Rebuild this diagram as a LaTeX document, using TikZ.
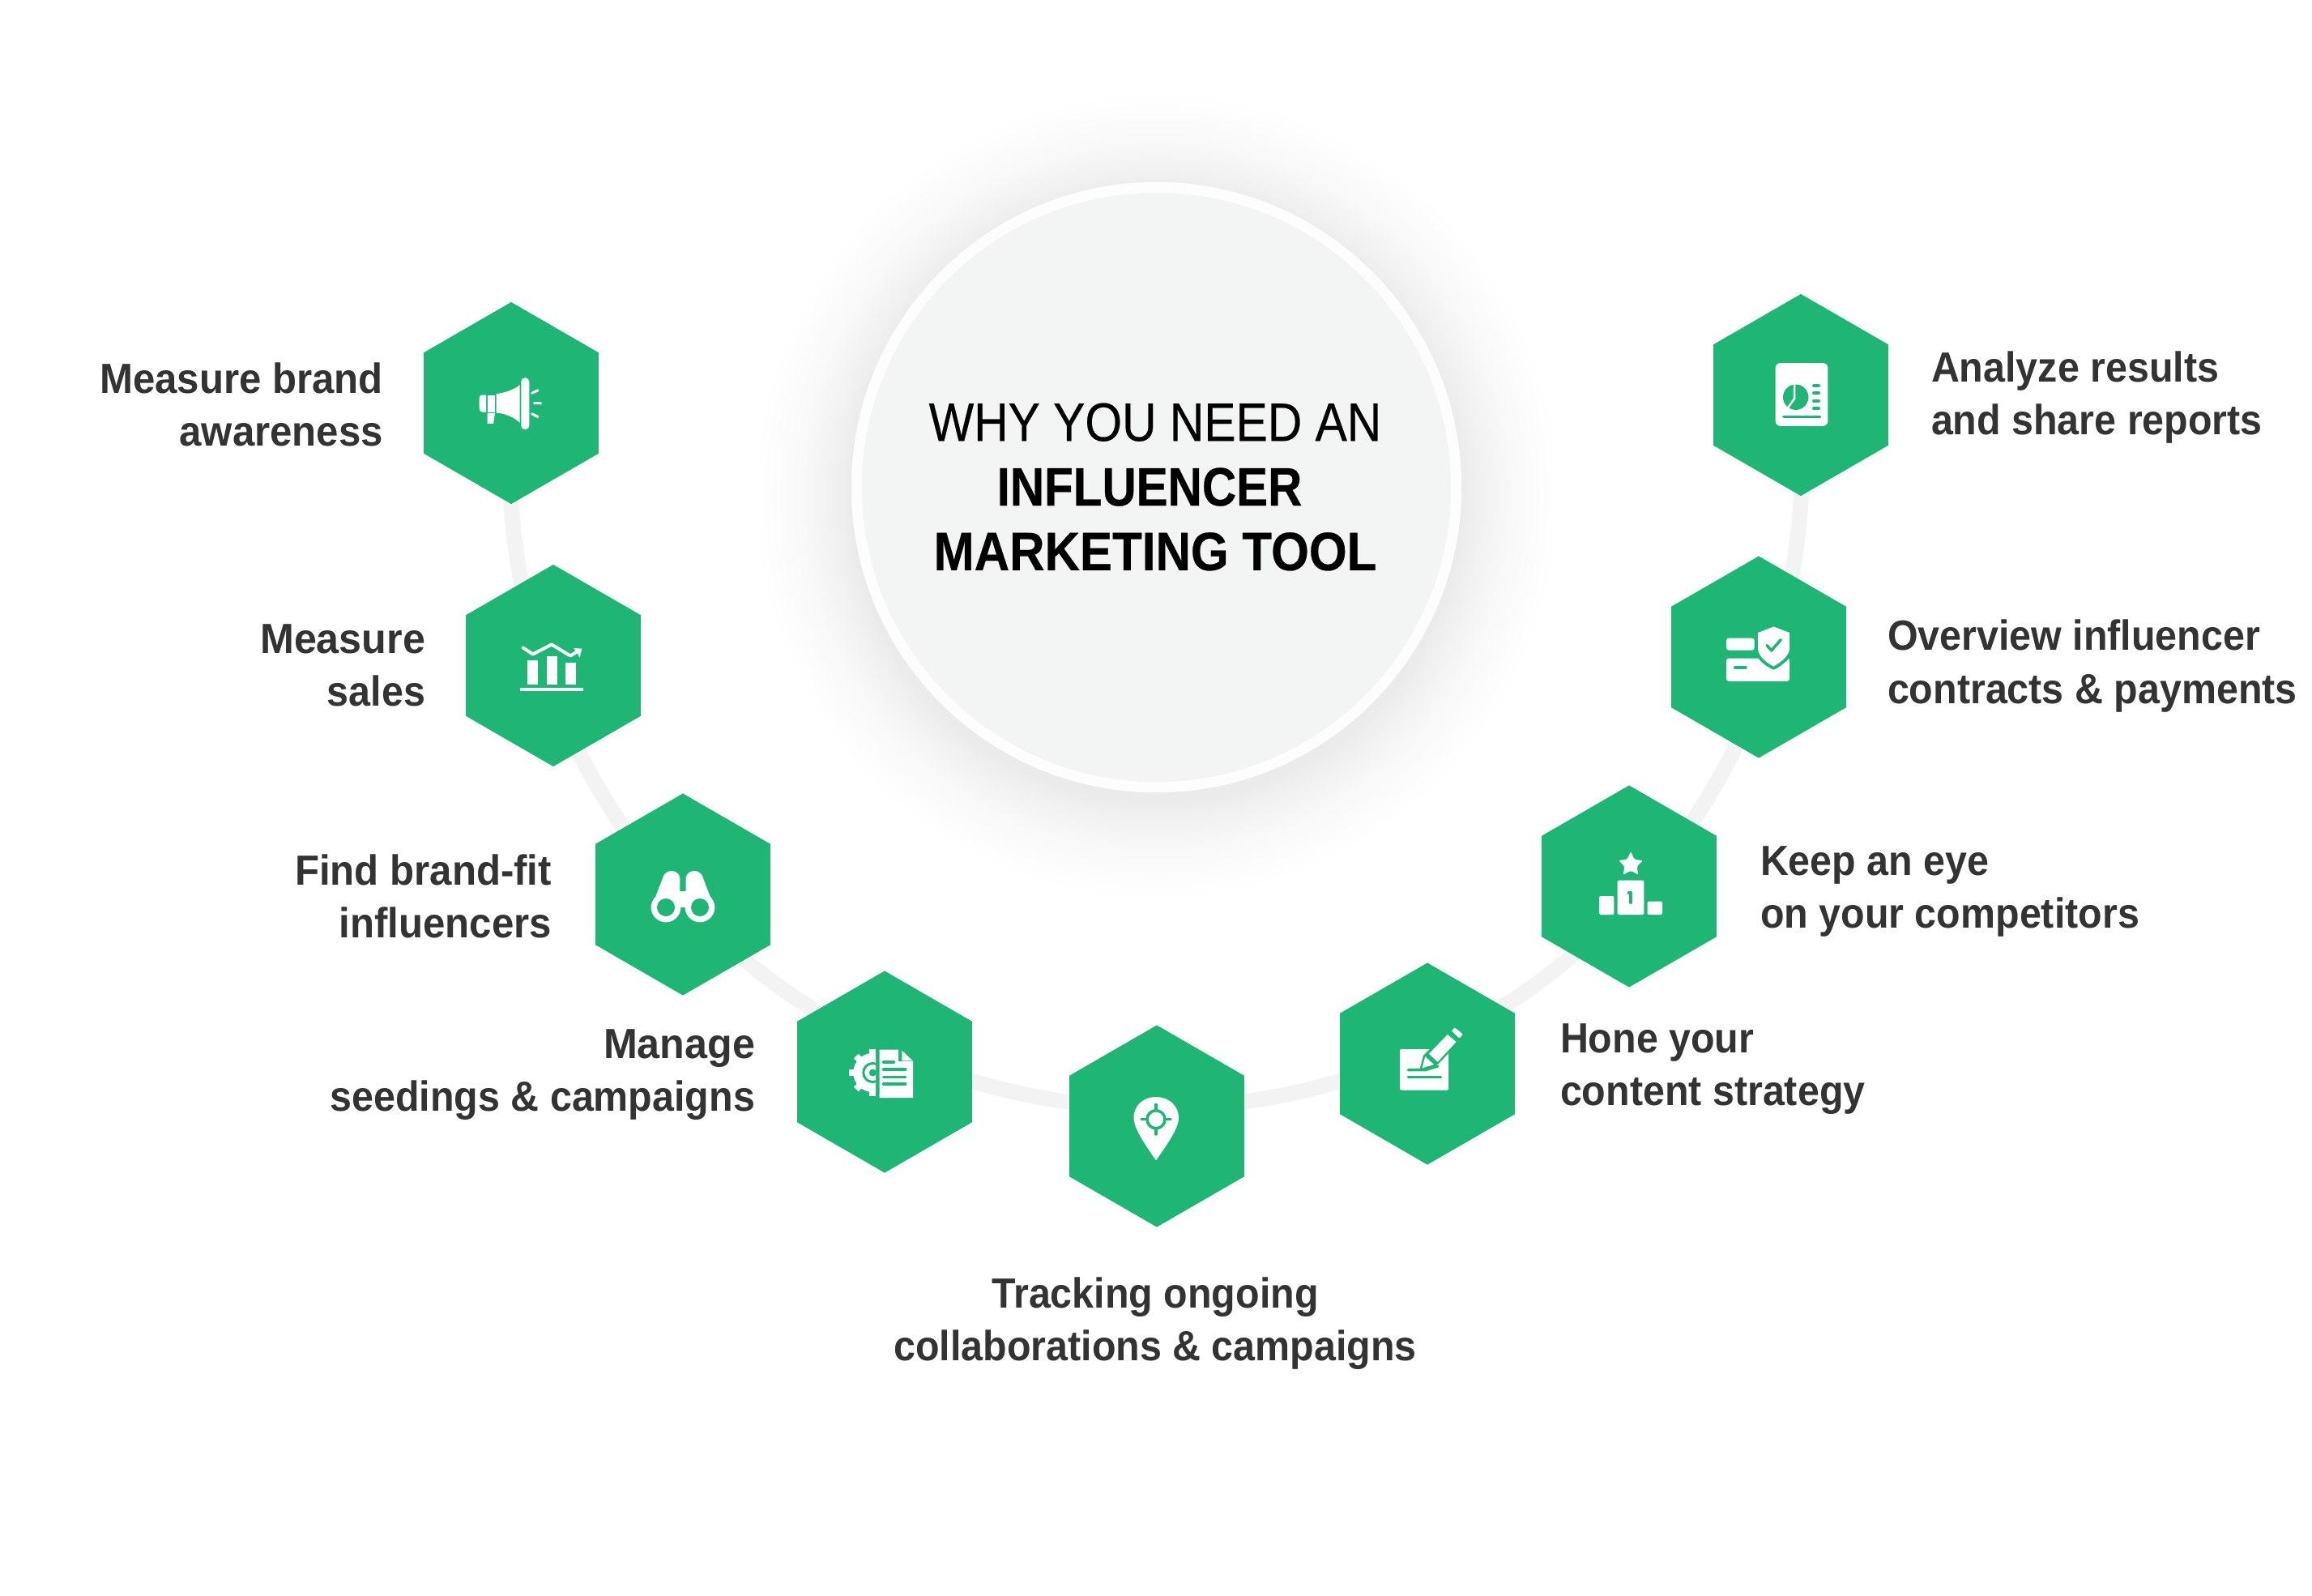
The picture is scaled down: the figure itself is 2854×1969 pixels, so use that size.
\documentclass[tikz,border=0pt]{standalone}
\usepackage{fontspec}
\usetikzlibrary{shapes.geometric}
\setmainfont{Liberation Sans}
\newfontfamily\labfont[FakeStretch=0.93]{Liberation Sans}
\newfontfamily\labmid[FakeStretch=0.945]{Liberation Sans}
\newfontfamily\labwide[FakeStretch=0.965]{Liberation Sans}
\newfontfamily\ttlreg[FakeStretch=0.88,FakeBold=0.35]{Liberation Sans}
\newfontfamily\ttlinf[FakeStretch=0.875,BoldFeatures={FakeBold=0.4}]{Liberation Sans}
\newfontfamily\ttlmkt[FakeStretch=0.9,BoldFeatures={FakeBold=0.4}]{Liberation Sans}
\definecolor{hexgreen}{HTML}{1FB574}
\definecolor{ringgray}{HTML}{F3F3F3}
\definecolor{discgray}{HTML}{F3F4F4}
\definecolor{discrim}{HTML}{FDFDFD}
\definecolor{labtext}{HTML}{333333}
\pgfdeclareradialshading{softglow}{\pgfpoint{0bp}{0bp}}{
 color(0bp)=(black!8); color(18.8bp)=(black!8); color(20bp)=(black!5.5); color(22bp)=(black!2.5); color(24bp)=(black!0.7); color(25bp)=(white); color(50bp)=(white)}
\pgfdeclarelayer{behind}
\pgfsetlayers{behind,main}
\tikzset{
 hexa/.style={regular polygon,regular polygon sides=6,regular polygon rotate=30,minimum size=2.49cm,inner sep=0pt,outer sep=0pt,fill=hexgreen,draw=none},
 lab/.style={font=\labfont\bfseries\fontsize{14.8}{18.5}\selectfont,text=labtext,inner sep=0pt,outer sep=0pt},
 labr/.style={lab,align=right,anchor=east},
 labl/.style={lab,align=left,anchor=west},
 ringline/.style={draw=ringgray,line width=0.19cm},
 ico/.style={fill=white,draw=none},
 gl/.style={draw=hexgreen,line cap=round,line join=round,line width=0.035cm},
 wl/.style={draw=white,line cap=round,line join=round,line width=0.035cm},
}
\begin{document}
\begin{tikzpicture}[x=0.01cm,y=-0.01cm]
\useasboundingbox (0,0) rectangle (2854,1969);
\begin{pgfonlayer}{behind}
\fill[white] (0,0) rectangle (2854,1969);
\end{pgfonlayer}
% shadow and centre disc
\shade[shading=softglow] (1427,612) circle (5cm);
\node[circle,minimum size=7.4cm,inner sep=0pt,fill=discgray,draw=discrim,line width=0.13cm] (hub) at (1427.5,601.5) {};
\node[font=\fontsize{19}{22.7}\selectfont,align=center,text=black,inner sep=0pt] (title) at (1426,601)
 {{\ttlreg WHY YOU NEED AN}\\ {\ttlinf\bfseries INFLUENCER}\kern 4pt\\ {\ttlmkt\bfseries MARKETING TOOL}};
% hexagons
\node[hexa] (h1) at (631,497.5) {};
\node[hexa] (h2) at (683,821.5) {};
\node[hexa] (h3) at (843,1104) {};
\node[hexa] (h4) at (1092,1323) {};
\node[hexa] (h5) at (1428,1390) {};
\node[hexa] (h6) at (1762,1313) {};
\node[hexa] (h7) at (2011,1094) {};
\node[hexa] (h8) at (2171,811) {};
\node[hexa] (h9) at (2223,487.5) {};
% ring arc behind the hexagons
\coordinate (arcstart) at (2220,488);
\begin{pgfonlayer}{behind}
 \draw[ringline] (arcstart) arc[start angle=5.9,end angle=-185.9,radius=7.97cm];
\end{pgfonlayer}
% labels
\node[labr] (t1) at (473,499.5) {{\labmid\bfseries Measure brand}\\{\labmid\bfseries awareness}};
\node[labr] (t2) at (525,821) {{\labwide\bfseries Measure}\\sales};
\node[labr] (t3) at (681,1106) {{\labmid\bfseries Find brand-fit}\\{\labmid\bfseries influencers}};
\node[labr] (t4) at (932,1327) {{\labwide\bfseries Manage}\\seedings \& campaigns};
\node[lab,align=center] (t5) at (1426,1634) {Tracking ongoing\\collaborations \& campaigns};
\node[labl] (t6) at (1926,1320) {Hone your\\content strategy};
\node[labl] (t7) at (2173,1100.5) {Keep an eye\\on your competitors};
\node[labl] (t8) at (2330,822) {Overview influencer\\contracts \& payments};
\node[labl] (t9) at (2384,491) {Analyze results\\and share reports};
% icon 1: megaphone
\begin{scope}[shift={(h1.center)}]
 \fill[ico,rounded corners=0.05cm] (12.3,-31.3) rectangle (22.3,32.7);
 \fill[ico] (-18.3,-11.3) .. controls (-6,-13) and (4,-17) .. (10.7,-22.3) -- (10.7,24.3) .. controls (4,18) and (-6,13) .. (-18.3,12) -- cycle;
 \fill[ico] (-31,-10) -- (-36,-10) .. controls (-38.5,-10) and (-39.3,-8) .. (-39.3,-6) -- (-39.3,6) .. controls (-39.3,9) and (-38,11) .. (-36,11) -- (-31,11) -- cycle;
 \fill[ico] (-29.3,-10) rectangle (-20,11);
 \fill[ico] (-29.3,12.7) -- (-20,12.7) -- (-22,25.3) -- (-29.3,25.3) -- cycle;
 \draw[wl,line width=0.03cm] (25.7,-12.3) -- (33,-15.7);
 \draw[wl,line width=0.03cm] (28.3,0) -- (36.7,0.3);
 \draw[wl,line width=0.03cm] (25.7,13.3) -- (33,17);
\end{scope}
% icon 2: chart
\begin{scope}[shift={(h2.center)}]
 \fill[ico] (-41,27.5) rectangle (37,31.5);
 \fill[ico] (-31.7,-6.5) rectangle (-19,23);
 \fill[ico] (-8.3,-12) rectangle (4.7,23);
 \fill[ico] (14.7,-4) rectangle (27.7,23);
 \draw[wl,line width=0.04cm] (-37.3,-22) -- (-25.3,-14) -- (-2,-26) -- (21,-12) -- (32,-18.8);
 \fill[ico] (25.3,-21.5) -- (35.3,-20.8) -- (32.7,-10) -- cycle;
\end{scope}
% icon 3: binoculars
\begin{scope}[shift={(h3.center)}]
 \fill[ico] (-38.7,16) -- (-25,-20) .. controls (-23,-27) and (-18,-29) .. (-14,-29) .. controls (-8,-29) and (-4,-25) .. (-3.7,-20) -- (-3.7,-4) -- (3.7,-4) -- (3.7,-20) .. controls (4,-25) and (8,-29) .. (14,-29) .. controls (18,-29) and (23,-27) .. (25,-20) -- (38.7,16) -- (3.7,16) -- (-3.7,16) -- cycle;
 \fill[ico] (-21,16) circle (0.183cm);
 \fill[ico] (21,16) circle (0.183cm);
 \fill[hexgreen] (-21,16) circle (0.11cm);
 \fill[hexgreen] (21,16) circle (0.11cm);
\end{scope}
% icon 4: gear and document
\begin{scope}[shift={(h4.center)}]
 \begin{scope}
  \clip (-60,-40) rectangle (-11,40);
  \fill[ico] (-14.7,1) circle (0.24cm);
  \foreach \a in {0,45,...,315} {
   \fill[ico,shift={(-14.7,1)},rotate=\a] (-4,-29) rectangle (4,-20);
  }
  \draw[hexgreen,line width=0.03cm] (-14.7,1) circle (0.115cm);
  \fill[hexgreen] (-14.7,1) circle (0.045cm);
 \end{scope}
 \fill[ico] (-6.3,-27.3) -- (17,-27.3) -- (17,-13) -- (35,-13) -- (35,32) -- (-6.3,32) -- cycle;
 \fill[ico] (21.3,-26.3) -- (34.7,-13.7) -- (21.3,-13.7) -- cycle;
 \draw[gl] (-1.3,-12) -- (11.3,-12);
 \draw[gl] (-1.3,-3) -- (25.7,-3);
 \draw[gl] (-1.3,6.3) -- (25.7,6.3);
 \draw[gl] (-1.3,15) -- (25.7,15);
\end{scope}
% icon 5: pin
\begin{scope}[shift={(h5.center)}]
 \fill[ico] (-1,42.3) .. controls (-13,25) and (-28.5,3) .. (-28.5,-10) .. controls (-28.5,-26) and (-16,-36) .. (-1,-36) .. controls (14,-36) and (27,-26) .. (27,-10) .. controls (27,3) and (11,25) .. (-1,42.3) -- cycle;
 \draw[hexgreen,line width=0.035cm] (-1,-8.3) circle (0.11cm);
 \draw[gl] (-1,-26.7) -- (-1,-20);
 \draw[gl] (-1,3.5) -- (-1,10);
 \draw[gl] (-19,-8.3) -- (-13,-8.3);
 \draw[gl] (11,-8.3) -- (17,-8.3);
\end{scope}
% icon 6: pad and pen
\begin{scope}[shift={(h6.center)}]
 \fill[ico,rounded corners=0.015cm] (-34,-18) rectangle (26,32.7);
 \draw[gl] (-23.7,7.7) -- (-3,7.7) -- (12.6,3);
 \draw[gl] (-23.7,16.7) -- (16.5,16.7);
 \fill[hexgreen,draw=hexgreen,line width=0.05cm,line join=round] (-6.5,5.3) -- (-2.7,-9) -- (24.9,-36) -- (35.6,-27) -- (12.6,-2.3) -- (8,1) -- cycle;
 \fill[ico] (1.9,-12.3) -- (24.9,-36) -- (35.6,-27) -- (12.6,-2.3) -- cycle;
 \fill[ico] (-2.7,-9) -- (8,1) -- (-6.5,5.3) -- cycle;
 \fill[hexgreen,draw=hexgreen,line width=0.02cm] (27,-44) -- (34,-48) -- (47,-33) -- (39.4,-27) -- cycle;
 \fill[ico,rounded corners=0.012cm] (29.8,-40.7) -- (33.7,-44.7) -- (44,-36.3) -- (39.4,-31.3) -- cycle;
\end{scope}
% icon 7: podium
\begin{scope}[shift={(h7.center)}]
 \fill[ico,rounded corners=0.015cm] (-14.3,-7.3) rectangle (18.3,35);
 \fill[ico,rounded corners=0.015cm] (-37,12) rectangle (-18.7,35);
 \fill[ico,rounded corners=0.015cm] (22.7,18.7) rectangle (41,35);
 \draw[gl,line width=0.04cm] (-0.5,8) -- (2,8) -- (2,20);
 \fill[ico,rounded corners=0.02cm] (2,-43.3) -- (6.5,-33) -- (17,-32) -- (9.5,-24.5) -- (11.5,-14) -- (2,-19.5) -- (-7.5,-14) -- (-5.5,-24.5) -- (-13,-32) -- (-2.5,-33) -- cycle;
\end{scope}
% icon 8: card and shield
\begin{scope}[shift={(h8.center)}]
 \fill[ico,rounded corners=0.03cm] (-40,-8.4) -- (-40,-23.3) -- (-5.3,-23.3) -- (-5.3,-8.4) -- cycle;
 \fill[ico,rounded corners=0.03cm] (-40,1.5) rectangle (38,29.8);
 \fill[hexgreen,draw=hexgreen,line width=0.08cm,line join=round] (18.3,-37.5) -- (38,-30) -- (38,-10.7) .. controls (38,-2) and (28,6) .. (18.3,11.5) .. controls (8,6) and (-1,-2) .. (-1,-10.7) -- (-1,-30) -- cycle;
 \fill[ico] (18.3,-37.5) -- (38,-30) -- (38,-10.7) .. controls (38,-2) and (28,6) .. (18.3,11.5) .. controls (8,6) and (-1,-2) .. (-1,-10.7) -- (-1,-30) -- cycle;
 \draw[gl] (10,-14.5) -- (15.7,-8) -- (27.3,-21.4);
 \draw[gl] (-29.3,13) -- (-16,13);
\end{scope}
% icon 9: report
\begin{scope}[shift={(h9.center)}]
 \fill[ico,rounded corners=0.06cm] (-31.3,-39.4) rectangle (33.3,38.3);
 \fill[hexgreen] (-6.3,2.7) circle (0.157cm);
 \draw[draw=white,line width=0.025cm,line join=miter] (-8,-14) -- (-8,4.6) -- (-17.5,18);
 \foreach \yy in {-11.5,-2.3,7.3,16.5} { \draw[gl] (14.3+1.5,\yy) -- (23.7-1.5,\yy); }
 \draw[gl] (-21.3,26.8) -- (23.7,26.8);
\end{scope}
\end{tikzpicture}
\end{document}
